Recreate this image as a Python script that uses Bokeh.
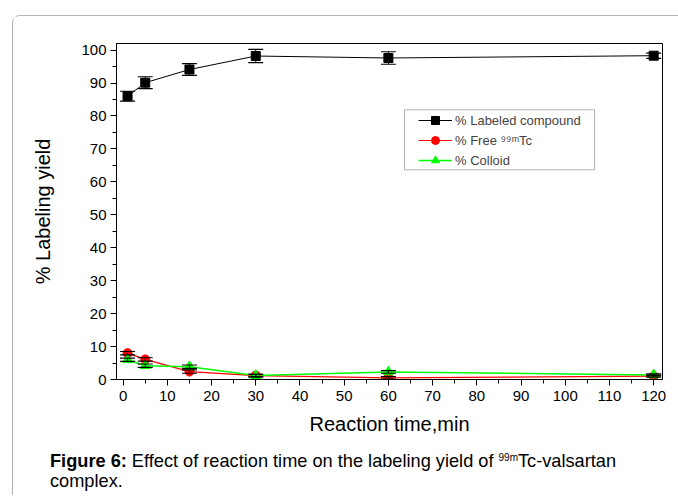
from bokeh.plotting import figure
from bokeh.layouts import column
from bokeh.models import (Range1d, Whisker, TeeHead, ColumnDataSource, Legend, LegendItem,
                          BoxAnnotation, SingleIntervalTicker, Div)
from bokeh.embed import file_html
from bokeh.resources import INLINE

# ---- data ----
time_min = [1, 5, 15, 30, 60, 120]
labeled = [86.0, 90.1, 94.1, 98.2, 97.6, 98.3]
labeled_err = [1.5, 1.8, 1.8, 2.0, 1.9, 0.8]
free_tc = [8.0, 6.1, 2.4, 1.2, 0.5, 1.0]
free_err = [0.5, 0.5, 0.5, 0.4, 0.4, 0.3]
colloid = [6.0, 4.2, 3.9, 1.2, 2.3, 1.4]
colloid_err = [0.5, 0.5, 0.5, 0.4, 0.4, 0.3]

series_names = ["% Labeled compound", "% Free \u2079\u2079\u1d50Tc", "% Colloid"]
x_title = "Reaction time,min"
y_title = "% Labeling yield"
caption_bold = "Figure 6:"
caption_1 = "Effect of reaction time on the labeling yield of"
caption_sup = "99m"
caption_2 = "Tc-valsartan"
caption_3 = "complex."

FONT = "Liberation Sans"

p = figure(width=657, height=435, x_range=Range1d(-1.5, 122), y_range=Range1d(0, 102),
           output_backend="svg", toolbar_location=None,
           min_border_left=103, min_border_right=8, min_border_top=27, min_border_bottom=72)
p.xgrid.visible = False
p.ygrid.visible = False
p.outline_line_color = "black"
p.outline_line_alpha = 1
p.outline_line_width = 1
p.background_fill_color = "white"
p.border_fill_color = "white"

p.xaxis.ticker = SingleIntervalTicker(interval=10, num_minor_ticks=2)
p.yaxis.ticker = SingleIntervalTicker(interval=10, num_minor_ticks=2)
for ax in (p.xaxis[0], p.yaxis[0]):
    ax.axis_line_color = "black"
    ax.major_tick_line_color = "black"
    ax.minor_tick_line_color = "black"
    ax.major_tick_out = 6
    ax.major_tick_in = 0
    ax.minor_tick_out = 4
    ax.minor_tick_in = 0
    ax.major_label_text_font = FONT
    ax.major_label_text_font_size = "15px"
    ax.major_label_text_color = "black"
    ax.axis_label_text_font = FONT
    ax.axis_label_text_font_size = "20px"
    ax.axis_label_text_font_style = "normal"
    ax.axis_label_text_color = "black"
p.xaxis.axis_label = x_title
p.yaxis.axis_label = y_title
p.xaxis.major_label_standoff = 5
p.yaxis.major_label_standoff = 4
p.xaxis.axis_label_standoff = 9
p.yaxis.axis_label_standoff = 24

src_l = ColumnDataSource(dict(x=time_min, y=labeled,
                              lo=[v - e for v, e in zip(labeled, labeled_err)],
                              hi=[v + e for v, e in zip(labeled, labeled_err)]))
src_f = ColumnDataSource(dict(x=time_min, y=free_tc,
                              lo=[v - e for v, e in zip(free_tc, free_err)],
                              hi=[v + e for v, e in zip(free_tc, free_err)]))
src_c = ColumnDataSource(dict(x=time_min, y=colloid,
                              lo=[v - e for v, e in zip(colloid, colloid_err)],
                              hi=[v + e for v, e in zip(colloid, colloid_err)]))

l_line = p.line("x", "y", source=src_l, line_color="black", line_width=1)
f_line = p.line("x", "y", source=src_f, line_color="#ff0000", line_width=1.2)
c_line = p.line("x", "y", source=src_c, line_color="#00ff00", line_width=1.5)

l_pts = p.scatter("x", "y", source=src_l, marker="square", size=9,
                  fill_color="black", line_color="black")
f_pts = p.scatter("x", "y", source=src_f, marker="circle", size=9,
                  fill_color="#ff0000", line_color="#ff0000")
c_pts = p.scatter("x", "y", source=src_c, marker="triangle", size=10,
                  fill_color="#00ff00", line_color="#00ff00")

for src in (src_f, src_c, src_l):
    w = Whisker(base="x", upper="hi", lower="lo", source=src, line_color="black",
                line_width=1, level="overlay",
                upper_head=TeeHead(size=15, line_color="black", line_width=1.2),
                lower_head=TeeHead(size=15, line_color="black", line_width=1.2))
    p.add_layout(w)

# legend box
p.add_layout(BoxAnnotation(left=288, right=478, bottom=209.7, top=269.7,
                           left_units="screen", right_units="screen",
                           bottom_units="screen", top_units="screen",
                           fill_alpha=0, line_color="black", line_width=1, level="overlay"))

legend = Legend(items=[LegendItem(label=series_names[0], renderers=[l_line, l_pts]),
                       LegendItem(label=series_names[1], renderers=[f_line, f_pts]),
                       LegendItem(label=series_names[2], renderers=[c_line, c_pts])],
                location=(301, 208), padding=1, spacing=0, margin=0,
                glyph_width=34, glyph_height=20, label_height=20, label_standoff=3,
                label_text_font=FONT, label_text_font_size="13px",
                border_line_alpha=0, background_fill_alpha=0)
p.add_layout(legend)

caption_html = (
    "<div style=\"font-family:'Liberation Sans',Arial,sans-serif;font-size:18.2px;"
    "line-height:20px;color:#000;white-space:nowrap;\">"
    f"<b>{caption_bold}</b> {caption_1} "
    f"<sup style=\"font-size:10px;vertical-align:6px;line-height:0;\">{caption_sup}</sup>"
    f"{caption_2}<br>{caption_3}</div>"
)
caption = Div(text=caption_html, width=628, height=44, margin=(0, 0, 0, 37))

layout = column(p, caption, margin=(15, 0, 0, 12),
                styles={"border-left": "1px solid #b4b4b4",
                        "border-top": "1px solid #b4b4b4",
                        "border-top-left-radius": "8px"})

open("out.html", "w").write(file_html(layout, INLINE))
